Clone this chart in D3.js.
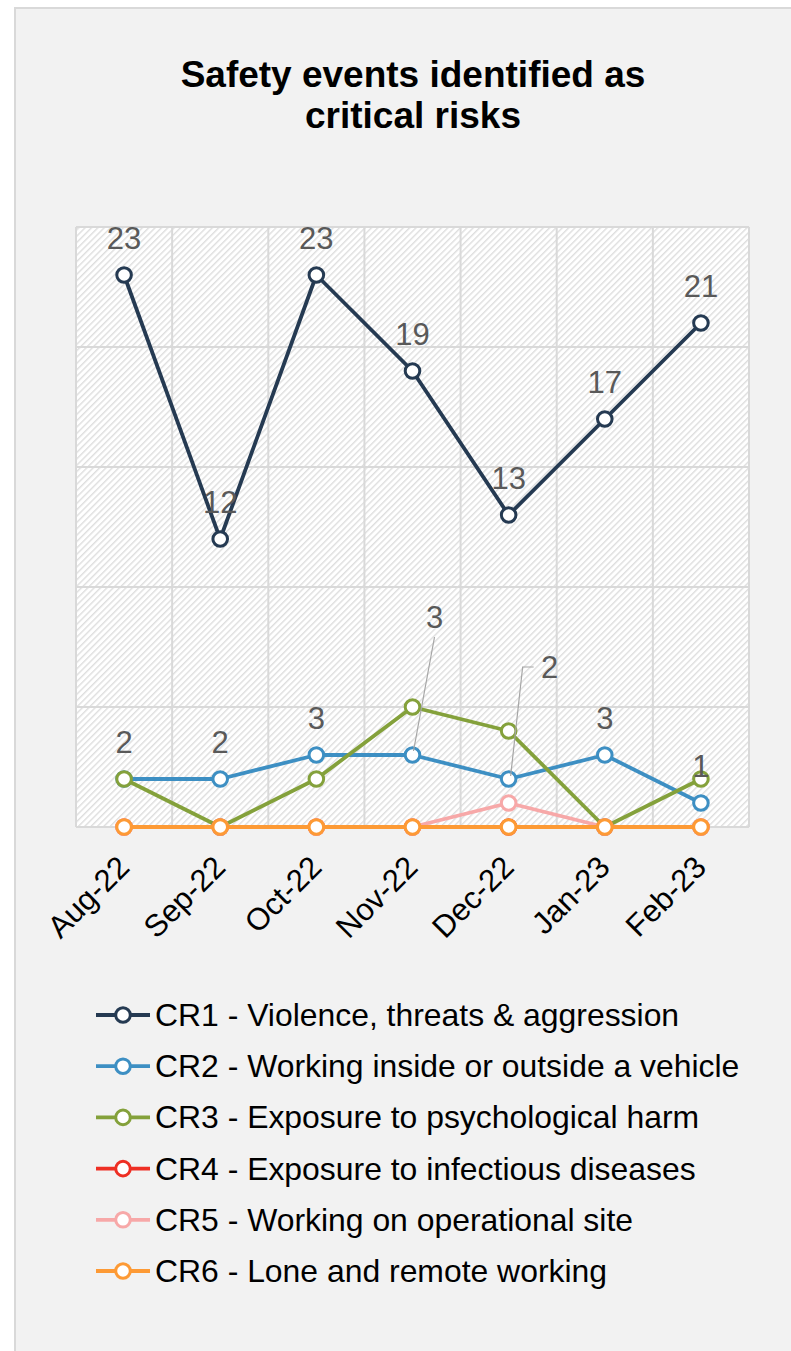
<!DOCTYPE html>
<html>
<head>
<meta charset="utf-8">
<script src="https://cdn.jsdelivr.net/npm/d3@7"></script>
<style>
  body { margin: 0; background: #fff; }
  svg text { font-family: "Liberation Sans", Arial, sans-serif; }
</style>
</head>
<body>
<div id="chart"></div>
<script>
// months on the x axis
var months = ["Aug-22", "Sep-22", "Oct-22", "Nov-22", "Dec-22", "Jan-23", "Feb-23"];

// one array per critical risk
var cr1 = [23, 12, 23, 19, 13, 17, 21];
var cr2 = [2, 2, 3, 3, 2, 3, 1];
var cr3 = [2, 0, 2, 5, 4, 0, 2];
var cr4 = [0, 0, 0, 0, 0, 0, 0];
var cr5 = [0, 0, 0, 0, 1, 0, 0];
var cr6 = [0, 0, 0, 0, 0, 0, 0];

var seriesNames = [
  "CR1 - Violence, threats & aggression",
  "CR2 - Working inside or outside a vehicle",
  "CR3 - Exposure to psychological harm",
  "CR4 - Exposure to infectious diseases",
  "CR5 - Working on operational site",
  "CR6 - Lone and remote working"
];
var seriesColors = ["#253a52", "#3d8fc3", "#84a13b", "#ee2f24", "#f7a8a8", "#fd9a35"];
var labelled = [true, true, false, false, false, false];
var yTicks = [0, 5, 10, 15, 20, 25];

var allSeries = [cr1, cr2, cr3, cr4, cr5, cr6];

// labels excel moved away from their point (pixel offsets, leader style)
var nudges = {
  "1|3": {dx: 22, dy: -138, leader: "down"},
  "1|4": {dx: 41, dy: -112, leader: "elbow"}
};

var W = 791, H = 1351;
var svg = d3.select("#chart").append("svg").attr("width", W).attr("height", H);

svg.append("rect")
  .attr("x", 15).attr("y", 8).attr("width", 820).attr("height", 1400)
  .attr("fill", "#f2f2f2").attr("stroke", "#d9d9d9").attr("stroke-width", 2);

var defs = svg.append("defs");
var pat = defs.append("pattern")
  .attr("id", "hatch").attr("patternUnits", "userSpaceOnUse")
  .attr("width", 4.5).attr("height", 4.5)
  .attr("patternTransform", "rotate(45)");
pat.append("rect").attr("width", 4.5).attr("height", 4.5).attr("fill", "#ffffff");
pat.append("rect").attr("width", 1.4).attr("height", 4.5).attr("fill", "#dedede");

// title
var titleLines = ["Safety events identified as", "critical risks"];
svg.selectAll(".title").data(titleLines).enter().append("text")
  .attr("class", "title")
  .attr("x", 413).attr("y", function(d, i) { return 87 + i * 41; })
  .attr("text-anchor", "middle")
  .attr("font-size", 37).attr("font-weight", "bold").attr("fill", "#000")
  .text(function(d) { return d; });

var plotL = 76, plotR = 749, plotT = 227, plotB = 827;
var x = d3.scaleBand().domain(months).range([plotL, plotR]).padding(0);
var y = d3.scaleLinear().domain([0, 25]).range([plotB, plotT]);
var cx = function(m) { return x(m) + x.bandwidth() / 2; };

svg.append("rect").attr("x", plotL).attr("y", plotT)
  .attr("width", plotR - plotL).attr("height", plotB - plotT)
  .attr("fill", "url(#hatch)");

// gridlines
svg.append("g").selectAll("line").data(yTicks).enter().append("line")
  .attr("x1", plotL).attr("x2", plotR)
  .attr("y1", function(d) { return y(d); }).attr("y2", function(d) { return y(d); })
  .attr("stroke", "#d9d9d9").attr("stroke-width", 2);
var vlines = months.map(function(m) { return x(m); }).concat([plotR]);
svg.append("g").selectAll("line").data(vlines).enter().append("line")
  .attr("x1", function(d) { return d; }).attr("x2", function(d) { return d; })
  .attr("y1", plotT).attr("y2", plotB)
  .attr("stroke", "#d9d9d9").attr("stroke-width", 2);

// x axis labels, rotated so they end just under the tick
var xAxis = d3.axisBottom(x).tickSize(0).tickPadding(0);
var xg = svg.append("g").attr("transform", "translate(0," + plotB + ")").call(xAxis);
xg.select(".domain").remove();
xg.selectAll(".tick text")
  .attr("font-size", 31).attr("fill", "#000")
  .attr("text-anchor", "end")
  .attr("dy", 0).attr("y", 0)
  .attr("transform", "translate(7,42) rotate(-45)");

var line = d3.line()
  .x(function(d, i) { return cx(months[i]); })
  .y(function(d) { return y(d); });

allSeries.forEach(function(vals, s) {
  var g = svg.append("g");
  g.append("path").datum(vals).attr("d", line)
    .attr("fill", "none").attr("stroke", seriesColors[s])
    .attr("stroke-width", 3.8).attr("stroke-linejoin", "round");
  g.selectAll("circle").data(vals).enter().append("circle")
    .attr("cx", function(d, i) { return cx(months[i]); })
    .attr("cy", function(d) { return y(d); })
    .attr("r", 7.3).attr("fill", "#fff")
    .attr("stroke", seriesColors[s]).attr("stroke-width", 3);
});

// data labels
allSeries.forEach(function(vals, s) {
  if (!labelled[s]) return;
  vals.forEach(function(v, i) {
    var px = cx(months[i]), py = y(v);
    var n = nudges[s + "|" + i];
    var lx = px, ly = py - 26;
    if (n) {
      lx = px + n.dx; ly = py + n.dy + 11;
      var pts;
      if (n.leader === "down") {
        pts = [[lx, ly + 9], [px + 1, py - 4]];
      } else {
        pts = [[lx - 16, ly - 11], [lx - 27, ly - 11], [px + 2, py - 3]];
      }
      svg.append("path").attr("d", d3.line()(pts))
        .attr("fill", "none").attr("stroke", "#a6a6a6").attr("stroke-width", 1.2);
    }
    svg.append("text").attr("x", lx).attr("y", ly)
      .attr("text-anchor", "middle").attr("font-size", 31).attr("fill", "#595959")
      .text(v);
  });
});

// legend
var leg = svg.append("g").selectAll("g").data(seriesNames).enter().append("g")
  .attr("transform", function(d, i) { return "translate(0," + (1015 + i * 51.2) + ")"; });
leg.append("line").attr("x1", 96).attr("x2", 150).attr("y1", 0).attr("y2", 0)
  .attr("stroke", function(d, i) { return seriesColors[i]; }).attr("stroke-width", 3.8);
leg.append("circle").attr("cx", 123).attr("cy", 0).attr("r", 7.3).attr("fill", "#fff")
  .attr("stroke", function(d, i) { return seriesColors[i]; }).attr("stroke-width", 3);
leg.append("text").attr("x", 155).attr("y", 11).attr("font-size", 31.9).attr("fill", "#000")
  .text(function(d) { return d; });
</script>
</body>
</html>
